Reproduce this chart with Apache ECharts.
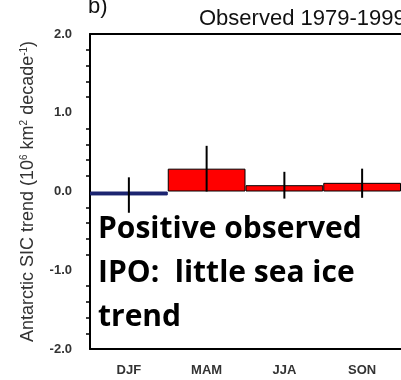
<!DOCTYPE html>
<html><head><meta charset="utf-8">
<script src="https://cdn.jsdelivr.net/npm/echarts@6/dist/echarts.min.js"></script>
<style>html,body{margin:0;padding:0;background:#fff}#c{width:401px;height:380px}</style>
</head><body><div id="c"></div>
<script>
var seasons = ['DJF', 'MAM', 'JJA', 'SON'];
var trend = [-0.05, 0.29, 0.08, 0.11];
var errLow = [-0.27, 0.0, -0.09, -0.08];
var errHigh = [0.18, 0.58, 0.25, 0.29];
var yTicks = [-2, -1, 0, 1, 2];
var titleText = 'Observed 1979-1999';
var panelLabel = 'b)';
var noteLines = ['Positive observed', 'IPO:  little sea ice', 'trend'];

var chart = echarts.init(document.getElementById('c'));
var fontF = '"Liberation Sans", Arial, sans-serif';
chart.setOption({
  animation: false,
  grid: {left: 90, top: 34, width: 312, bottom: 31},
  xAxis: [{
    type: 'category', data: seasons, position: 'bottom',
    axisLine: {onZero: false, lineStyle: {color: '#000', width: 2}},
    axisTick: {alignWithLabel: true, length: 8, lineStyle: {color: '#000', width: 2}},
    axisLabel: {margin: 15, color: '#333', fontSize: 13, fontWeight: 'bold', fontFamily: fontF}
  }, {
    type: 'category', data: seasons, position: 'top',
    axisLine: {onZero: false, lineStyle: {color: '#000', width: 2}},
    axisTick: {alignWithLabel: true, length: 6, lineStyle: {color: '#000', width: 2}},
    axisLabel: {show: false}
  }],
  yAxis: {
    type: 'value', min: yTicks[0], max: yTicks[yTicks.length - 1], interval: 1,
    splitLine: {show: false},
    axisLine: {show: true, lineStyle: {color: '#000', width: 2}},
    axisTick: {length: 9, lineStyle: {color: '#000', width: 2}},
    minorTick: {show: true, splitNumber: 5, length: 4, lineStyle: {color: '#000', width: 1.5}},
    axisLabel: {margin: 18, color: '#333', fontSize: 13, fontWeight: 'bold', fontFamily: fontF,
      formatter: function (v) { return v.toFixed(1); }},
    name: 'Antarctic SIC trend (10{s|6} km{s|2} decade{s|-1})',
    nameLocation: 'middle', nameGap: 53, nameRotate: 90,
    nameTextStyle: {color: '#333', fontSize: 18, fontFamily: fontF,
      rich: {s: {fontSize: 10, verticalAlign: 'top', lineHeight: 10, color: '#333', fontFamily: fontF, padding: [0,0,8,0]}}}
  },
  series: [{
    type: 'bar', data: trend.map(function (v) {
      return {value: v, itemStyle: {color: v < 0 ? '#1c2570' : '#ff0000', borderColor: v < 0 ? '#1c2570' : '#000'}};
    }),
    barWidth: '100%', itemStyle: {borderWidth: 1}
  }, {
    type: 'custom',
    data: seasons.map(function (s, i) { return [i, errLow[i], errHigh[i]]; }),
    renderItem: function (params, api) {
      var lo = api.coord([api.value(0), api.value(1)]);
      var hi = api.coord([api.value(0), api.value(2)]);
      return {type: 'line', shape: {x1: lo[0], y1: lo[1], x2: hi[0], y2: hi[1]},
        style: {stroke: '#000', lineWidth: 2}};
    },
    z: 5
  }],
  graphic: [
    {type: 'text', left: 199, top: 8, style: {text: titleText, font: '22px ' + fontF, fill: '#111'}},
    {type: 'text', left: 88, top: -4, style: {text: panelLabel, font: '22px ' + fontF, fill: '#111'}},
    {type: 'text', left: 98, top: 207, z: 10, style: {text: noteLines.join('\n'), font: 'bold 30px "Open Sans", sans-serif', lineHeight: 44, fill: '#000'}}
  ]
});
</script></body></html>
